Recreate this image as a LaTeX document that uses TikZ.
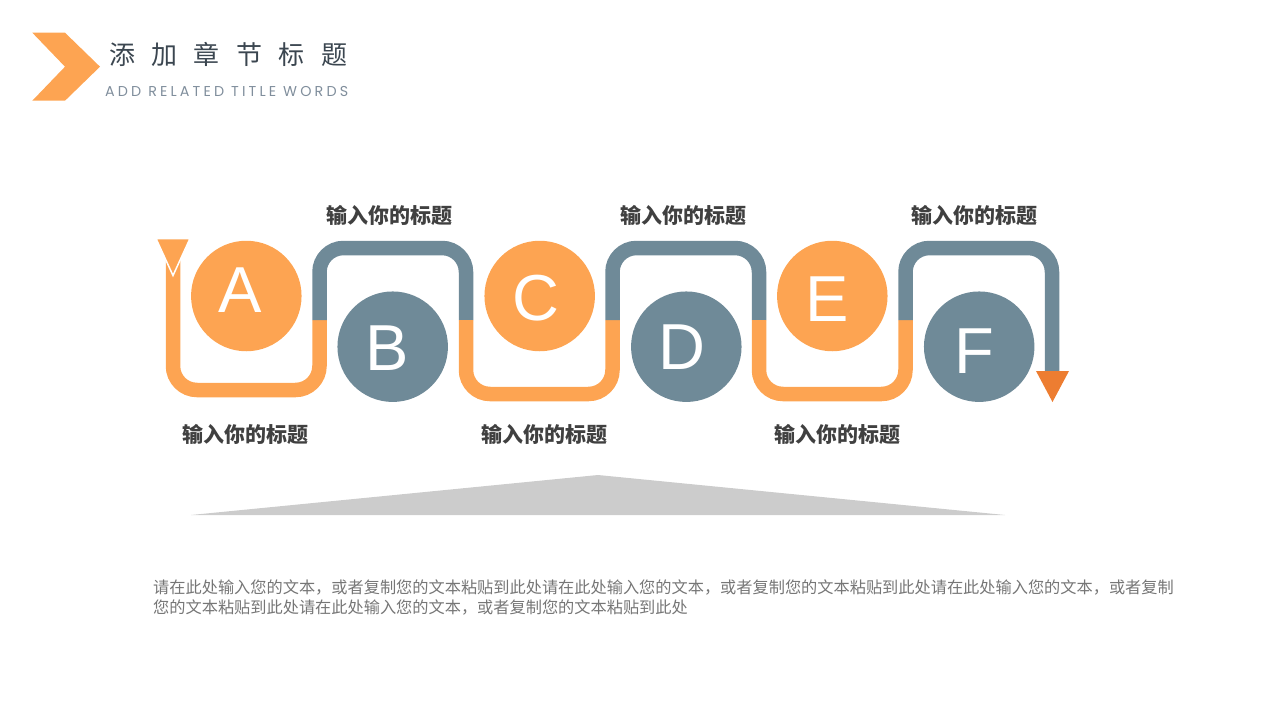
\documentclass[tikz,border=0pt]{standalone}
\usepackage{fontspec}
\setmainfont{Liberation Sans}
\newfontfamily\cjk{Noto Sans CJK SC}
\newfontfamily\pop{Poppins}
\usetikzlibrary{calc}
\definecolor{orng}{RGB}{253,164,82}
\definecolor{slate}{RGB}{111,138,152}
\definecolor{dorng}{RGB}{237,125,49}
\definecolor{lblgray}{RGB}{64,64,64}
\definecolor{titlecol}{RGB}{59,70,80}
\definecolor{subcol}{RGB}{128,142,156}
\definecolor{bodycol}{RGB}{118,118,118}
\definecolor{trigray}{RGB}{204,204,204}
\tikzset{
  pipeO/.style={draw=orng,line width=14.5pt,rounded corners=24pt},
  pipeS/.style={draw=slate,line width=14.5pt,rounded corners=24pt},
  discO/.style={circle,fill=orng,minimum size=110.5pt,inner sep=0},
  discS/.style={circle,fill=slate,minimum size=110.5pt,inner sep=0},
  letter/.style={text=white,font=\fontsize{65}{65}\selectfont,inner sep=0},
  lbl/.style={text=lblgray,font=\cjk\bfseries\fontsize{21}{21}\selectfont,inner sep=0}
}
\begin{document}
\begin{tikzpicture}[x=1pt,y=-1pt]
\useasboundingbox (0,0) rectangle (1280,720);
% header
\fill[orng] (32.3,32.7) -- (65,32.7) -- (100,66.7) -- (65,100.7) -- (32.3,100.7) -- (65,66.7) -- cycle;
\node[anchor=west,inner sep=0,text=titlecol,font=\cjk\fontsize{26}{26}\selectfont] (title) at (109,54)
  {添\hspace{16.4pt}加\hspace{16.4pt}章\hspace{16.4pt}节\hspace{16.4pt}标\hspace{16.4pt}题};
\node[anchor=west,inner sep=0,text=subcol,font=\pop\fontsize{14.3}{14.3}\selectfont\addfontfeature{LetterSpace=22}] (sub) at (105,92)
  {ADD RELATED TITLE WORDS};
% path coordinates
\coordinate (s0) at (173,250);
\coordinate (b1) at (173,390);
\coordinate (b2) at (319.5,390);
\coordinate (m1) at (319.5,320);
\coordinate (t1) at (319.5,248);
\coordinate (t2) at (466,248);
\coordinate (m2) at (466,320);
\coordinate (b3) at (466,394);
\coordinate (b4) at (612.5,394);
\coordinate (m3) at (612.5,320);
\coordinate (t3) at (612.5,248);
\coordinate (t4) at (759,248);
\coordinate (m4) at (759,320);
\coordinate (b5) at (759,394);
\coordinate (b6) at (905.5,394);
\coordinate (m5) at (905.5,320);
\coordinate (t5) at (905.5,248);
\coordinate (t6) at (1052,248);
\coordinate (e0) at (1052,373);
\draw[pipeO] (s0) -- (b1) -- (b2) -- (m1);
\draw[pipeS] (m1) -- (t1) -- (t2) -- (m2);
\draw[pipeO] (m2) -- (b3) -- (b4) -- (m3);
\draw[pipeS] (m3) -- (t3) -- (t4) -- (m4);
\draw[pipeO] (m4) -- (b5) -- (b6) -- (m5);
\draw[pipeS] (m5) -- (t5) -- (t6) -- (e0);
% start and end triangles
\filldraw[fill=orng,draw=white,line width=1.5pt] (156,238.5) -- (190,238.5) -- (173,275.5) -- cycle;
\fill[dorng] (1036,371) -- (1069,371) -- (1052.5,402) -- cycle;
% discs
\node[discO] (cA) at (246.3,296) {};
\node[discS] (cB) at (392.7,346.7) {};
\node[discO] (cC) at (539.7,296) {};
\node[discS] (cD) at (686.3,346.7) {};
\node[discO] (cE) at (832.3,296) {};
\node[discS] (cF) at (979.2,346.7) {};
\node[letter] at ($(cA)+(-6,-6)$) {A};
\node[letter] at ($(cB)+(-6,1)$) {B};
\node[letter] at ($(cC)+(-4,2)$) {C};
\node[letter] at ($(cD)+(-4,0)$) {D};
\node[letter] at ($(cE)+(-5,3)$) {E};
\node[letter] at ($(cF)+(-5,4)$) {F};
% labels
\node[lbl] (l1) at (389.5,215) {输入你的标题};
\node[lbl] (l2) at (683.5,215) {输入你的标题};
\node[lbl] (l3) at (974.5,215) {输入你的标题};
\node[lbl] (l4) at (245,434) {输入你的标题};
\node[lbl] (l5) at (544,434) {输入你的标题};
\node[lbl] (l6) at (837.5,434) {输入你的标题};
% gray wedge
\fill[trigray] (191,515) -- (598,475) -- (1005,515) -- cycle;
% body text
\node[anchor=north west,inner sep=0,align=left,text=bodycol,font=\cjk\fontsize{16.2}{20}\selectfont] (body) at (153,580)
  {请在此处输入您的文本，或者复制您的文本粘贴到此处请在此处输入您的文本，或者复制您的文本粘贴到此处请在此处输入您的文本，或者复制\\
   您的文本粘贴到此处请在此处输入您的文本，或者复制您的文本粘贴到此处};
\end{tikzpicture}
\end{document}
